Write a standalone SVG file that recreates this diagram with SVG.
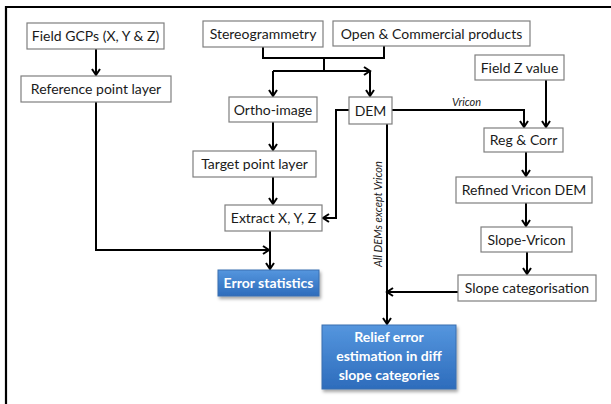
<svg xmlns="http://www.w3.org/2000/svg" width="611" height="404" viewBox="0 0 611 404">
  <style>
    .box { fill: #ffffff; stroke: #7f7f7f; stroke-width: 1.2; }
    .lbl { font-family: Lato, "Open Sans", "Liberation Sans", sans-serif; font-size: 14px; fill: #1a1a1a; text-anchor: middle; }
    .blue { fill: url(#blueGrad); stroke: #3a6fb0; stroke-width: 1; filter: url(#shadow); }
    .wlbl { font-family: Lato, "Open Sans", "Liberation Sans", sans-serif; font-size: 14px; font-weight: bold; fill: #ffffff; text-anchor: middle; }
    .conn path { fill: none; stroke: #000000; stroke-width: 2; }
    .arr { marker-end: url(#head); }
    .note { font-family: Lato, "Open Sans", "Liberation Sans", sans-serif; font-size: 11px; font-style: italic; fill: #222222; }
  </style>
  <defs>
    <linearGradient id="blueGrad" x1="0" y1="0" x2="0" y2="1">
      <stop offset="0" stop-color="#5596de"/>
      <stop offset="1" stop-color="#2d6cbc"/>
    </linearGradient>
    <filter id="shadow" x="-10%" y="-10%" width="130%" height="140%">
      <feDropShadow dx="1.5" dy="2.5" stdDeviation="1.5" flood-color="#000000" flood-opacity="0.35"/>
    </filter>
    <marker id="head" markerUnits="userSpaceOnUse" markerWidth="12" markerHeight="12" refX="7" refY="5" orient="auto" viewBox="0 0 12 10">
      <path d="M1,1 L7,5 L1,9" fill="none" stroke="#000000" stroke-width="2"/>
    </marker>
  </defs>

  <rect width="611" height="404" fill="#ffffff"/>
  <!-- outer frame -->
  <path d="M6,420 L6,7 L620,7" fill="none" stroke="#000000" stroke-width="2.2"/>

  <!-- connectors -->
  <g id="connectors" class="conn">
    <path class="arr" d="M96,49 L96,75"/>
    <path d="M263,47 L263,58 L384,58 L384,46"/>
    <path d="M324,58 L324,71"/>
    <path class="arr" d="M273,71 L370,71"/>
    <path class="arr" d="M273,71 L273,96"/>
    <path class="arr" d="M370,71 L370,96"/>
    <path class="arr" d="M273,122 L273,150"/>
    <path class="arr" d="M273,177 L273,204"/>
    <path class="arr" d="M349,110 L336,110 L336,218 L323,218"/>
    <path class="arr" d="M270,231 L270,269"/>
    <path class="arr" d="M96,102 L96,250 L269,250"/>
    <path class="arr" d="M392,110 L524,110 L524,127"/>
    <path class="arr" d="M546,80 L546,127"/>
    <path class="arr" d="M526,152 L526,176"/>
    <path class="arr" d="M526,203 L526,226"/>
    <path class="arr" d="M527,252 L527,274"/>
    <path class="arr" d="M387,124 L387,324"/>
    <path class="arr" d="M458,292 L387,292"/>
  </g>
  <text class="note" x="452" y="106">Vricon</text>
  <text class="note" transform="translate(382,214) rotate(-90)" text-anchor="middle">All DEMs except Vricon</text>

  <!-- nodes -->
  <g id="field-gcps"><rect class="box" x="27" y="23" width="137" height="26"/><text class="lbl" x="95.5" y="41">Field GCPs (X, Y &amp; Z)</text></g>
  <g id="reference-point-layer"><rect class="box" x="21" y="76" width="150" height="26"/><text class="lbl" x="96" y="94">Reference point layer</text></g>
  <g id="stereogrammetry"><rect class="box" x="203" y="21" width="120" height="26"/><text class="lbl" x="263" y="39">Stereogrammetry</text></g>
  <g id="open-commercial"><rect class="box" x="333" y="21" width="197" height="25"/><text class="lbl" x="431.5" y="38.5">Open &amp; Commercial products</text></g>
  <g id="ortho-image"><rect class="box" x="229" y="97" width="88" height="25"/><text class="lbl" x="273" y="114.5">Ortho-image</text></g>
  <g id="dem"><rect class="box" x="349" y="97" width="43" height="27"/><text class="lbl" x="370.5" y="115.5">DEM</text></g>
  <g id="target-point-layer"><rect class="box" x="193" y="151" width="123" height="26"/><text class="lbl" x="254.5" y="169">Target point layer</text></g>
  <g id="extract-xyz"><rect class="box" x="225" y="205" width="97" height="26"/><text class="lbl" x="273.5" y="223">Extract X, Y, Z</text></g>
  <g id="error-statistics"><rect class="blue" x="218" y="270" width="101" height="26"/><text class="wlbl" x="268.5" y="288">Error statistics</text></g>
  <g id="field-z-value"><rect class="box" x="475" y="55" width="89" height="25"/><text class="lbl" x="519.5" y="72.5">Field Z value</text></g>
  <g id="reg-corr"><rect class="box" x="484" y="128" width="79" height="24"/><text class="lbl" x="523.5" y="145">Reg &amp; Corr</text></g>
  <g id="refined-vricon-dem"><rect class="box" x="456" y="177" width="136" height="26"/><text class="lbl" x="524" y="195">Refined Vricon DEM</text></g>
  <g id="slope-vricon"><rect class="box" x="481" y="227" width="91" height="25"/><text class="lbl" x="526.5" y="244.5">Slope-Vricon</text></g>
  <g id="slope-categorisation"><rect class="box" x="458" y="275" width="138" height="26"/><text class="lbl" x="527" y="293">Slope categorisation</text></g>
  <g id="relief-error"><rect class="blue" x="322" y="325" width="134" height="64"/>
    <text class="wlbl" x="389" y="342">Relief error</text>
    <text class="wlbl" x="389" y="361">estimation in diff</text>
    <text class="wlbl" x="389" y="380">slope categories</text>
  </g>
</svg>
